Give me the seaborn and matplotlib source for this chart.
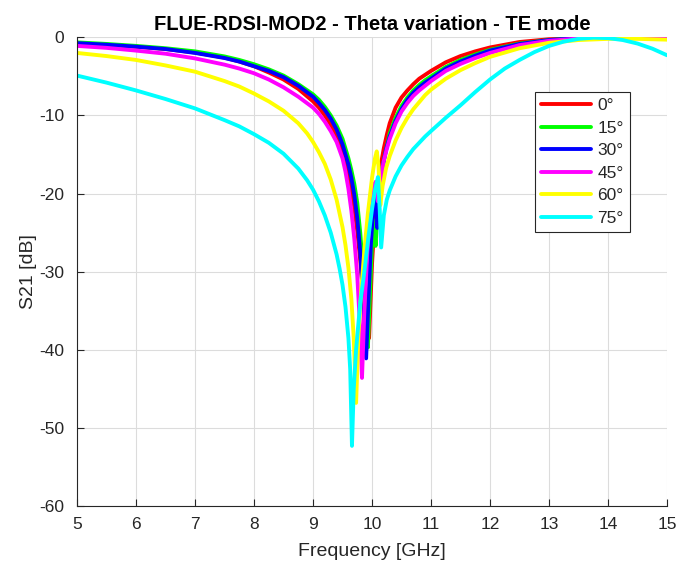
import numpy as np
import pandas as pd
import matplotlib
matplotlib.use('Agg')
import matplotlib.pyplot as plt
import seaborn as sns

# S21 curves, one pair of lists per incidence angle
freq_0 = [5, 5.5, 6, 6.5, 7, 7.5, 7.75, 8, 8.25, 8.5, 8.75, 9, 9.1, 9.2, 9.3, 9.4, 9.5, 9.6, 9.65,
          9.7, 9.75, 9.8, 9.85, 9.9, 9.95, 10.0, 10.05, 10.1, 10.15, 10.2, 10.25, 10.3, 10.4, 10.5,
          10.6, 10.7, 10.8, 10.9, 11, 11.25, 11.5, 11.75, 12, 12.5, 13, 13.5, 14, 14.5, 15]
s21_0 = [-0.75, -0.95, -1.2, -1.5, -1.95, -2.6, -3.1, -3.7, -4.5, -5.4, -6.6, -8.2, -9.0, -10.0, -11.2,
         -12.7, -14.6, -17.3, -19.3, -21.8, -24.8, -28.5, -33.0, -37.0, -38.5, -29.0, -22.5, -18.5,
         -16.3, -14.2, -12.5, -11.0, -9.0, -7.7, -6.8, -6.0, -5.3, -4.8, -4.3, -3.2, -2.4, -1.8, -1.3,
         -0.6, -0.25, -0.1, -0.05, -0.05, -0.1]

freq_15 = [5, 5.5, 6, 6.5, 7, 7.5, 7.75, 8, 8.25, 8.5, 8.75, 9, 9.1, 9.2, 9.3, 9.4, 9.5, 9.6, 9.65,
           9.7, 9.75, 9.8, 9.85, 9.9, 9.93, 9.97, 10.0, 10.03, 10.06, 10.1, 10.15, 10.2, 10.25, 10.3,
           10.4, 10.5, 10.6, 10.7, 10.8, 10.9, 11, 11.25, 11.5, 11.75, 12, 12.5, 13, 13.5, 14, 14.5, 15]
s21_15 = [-0.65, -0.85, -1.1, -1.4, -1.8, -2.45, -2.9, -3.45, -4.1, -4.9, -6.0, -7.3, -8.0, -8.9, -10.0,
          -11.3, -13.0, -15.5, -17.0, -18.8, -21.2, -25.0, -30.0, -36.0, -39.7, -32.0, -26.5, -23.5,
          -26.7, -21.5, -18.0, -15.8, -14.0, -12.3, -10.3, -8.8, -7.7, -6.8, -6.1, -5.5, -5.0, -3.8,
          -2.9, -2.2, -1.6, -0.8, -0.35, -0.1, -0.02, 0.0, 0.0]

freq_30 = [5, 5.5, 6, 6.5, 7, 7.5, 7.75, 8, 8.25, 8.5, 8.75, 9, 9.1, 9.2, 9.3, 9.4, 9.5, 9.6, 9.65,
           9.7, 9.75, 9.8, 9.85, 9.9, 9.94, 9.98, 10.02, 10.06, 10.09, 10.13, 10.18, 10.24, 10.3,
           10.4, 10.5, 10.6, 10.7, 10.8, 10.9, 11, 11.25, 11.5, 11.75, 12, 12.5, 13, 13.5, 14, 14.5, 15]
s21_30 = [-0.75, -0.95, -1.2, -1.5, -2.0, -2.65, -3.1, -3.7, -4.3, -5.1, -6.2, -7.6, -8.4, -9.3, -10.4,
          -11.8, -13.7, -16.3, -18.0, -20.2, -23.2, -27.5, -33.5, -41.1, -33.5, -26.5, -22.0, -20.5,
          -24.4, -19.5, -16.5, -14.3, -12.7, -10.7, -9.2, -8.0, -7.1, -6.4, -5.8, -5.3, -4.0, -3.1,
          -2.35, -1.7, -0.85, -0.35, -0.1, 0.0, 0.0, 0.0]

freq_45 = [5, 5.5, 6, 6.5, 7, 7.5, 7.75, 8, 8.25, 8.5, 8.75, 9, 9.1, 9.2, 9.3, 9.4, 9.5, 9.55, 9.6,
           9.65, 9.7, 9.75, 9.8, 9.83, 9.87, 9.92, 9.97, 10.02, 10.06, 10.1, 10.14, 10.2, 10.25, 10.3,
           10.4, 10.5, 10.6, 10.7, 10.8, 10.9, 11, 11.25, 11.5, 11.75, 12, 12.5, 13, 13.5, 14, 14.5, 15]
s21_45 = [-1.1, -1.35, -1.7, -2.1, -2.7, -3.5, -4.0, -4.6, -5.4, -6.4, -7.6, -9.0, -9.8, -10.8, -12.0,
          -13.4, -15.5, -17.2, -19.4, -22.2, -25.8, -30.5, -37.5, -43.6, -35.0, -27.5, -22.5, -19.5,
          -18.5, -21.0, -18.5, -15.8, -14.3, -13.0, -11.0, -9.5, -8.4, -7.5, -6.8, -6.2, -5.6, -4.3,
          -3.4, -2.65, -2.0, -1.0, -0.45, -0.15, -0.05, 0.0, 0.0]

freq_60 = [5, 5.5, 6, 6.5, 7, 7.5, 7.75, 8, 8.25, 8.5, 8.75, 8.9, 9, 9.1, 9.2, 9.3, 9.4, 9.5, 9.55,
           9.6, 9.65, 9.69, 9.73, 9.77, 9.82, 9.87, 9.93, 10.0, 10.05, 10.08, 10.11, 10.14, 10.18,
           10.24, 10.3, 10.4, 10.5, 10.6, 10.7, 10.8, 10.9, 11, 11.25, 11.5, 11.75, 12, 12.5, 13,
           13.5, 14, 14.5, 15]
s21_60 = [-2.0, -2.4, -2.9, -3.6, -4.4, -5.6, -6.3, -7.2, -8.2, -9.4, -11.0, -12.3, -13.4, -14.7, -16.2,
          -18.2, -20.8, -24.3, -26.6, -29.5, -33.5, -38.5, -46.8, -38.0, -32.0, -27.3, -22.5, -18.0,
          -15.5, -14.6, -16.5, -21.5, -19.0, -16.7, -15.2, -13.2, -11.6, -10.3, -9.2, -8.3, -7.4,
          -6.7, -5.3, -4.2, -3.3, -2.5, -1.4, -0.7, -0.35, -0.2, -0.2, -0.3]

freq_75 = [5, 5.5, 6, 6.5, 7, 7.5, 7.75, 8, 8.25, 8.5, 8.75, 8.9, 9, 9.1, 9.2, 9.3, 9.4, 9.45, 9.5,
           9.55, 9.6, 9.63, 9.66, 9.69, 9.73, 9.8, 9.87, 9.94, 10.0, 10.05, 10.1, 10.13, 10.155, 10.2,
           10.25, 10.3, 10.4, 10.5, 10.6, 10.7, 10.8, 10.9, 11, 11.25, 11.5, 11.75, 12, 12.25, 12.5,
           12.75, 13, 13.25, 13.5, 13.75, 14, 14.25, 14.5, 14.75, 15]
s21_75 = [-4.9, -5.8, -6.8, -7.9, -9.1, -10.6, -11.4, -12.4, -13.5, -14.9, -16.8, -18.3, -19.5, -21.0,
          -22.8, -25.0, -27.8, -29.6, -31.7, -34.5, -38.5, -42.5, -52.3, -45.0, -40.0, -34.0, -30.0,
          -25.5, -22.0, -19.6, -17.9, -22.0, -26.9, -22.8, -20.8, -19.6, -17.8, -16.4, -15.3, -14.3,
          -13.5, -12.7, -12.0, -10.3, -8.7, -7.0, -5.4, -4.0, -2.9, -1.9, -1.1, -0.55, -0.2, -0.05,
          -0.1, -0.35, -0.8, -1.45, -2.3]

angles = ['0°', '15°', '30°', '45°', '60°', '75°']
colors = ['#ff0000', '#00ff00', '#0000ff', '#ff00ff', '#ffff00', '#00ffff']
freqs = [freq_0, freq_15, freq_30, freq_45, freq_60, freq_75]
values = [s21_0, s21_15, s21_30, s21_45, s21_60, s21_75]

# long format table for seaborn
frames = []
for ang, f, v in zip(angles, freqs, values):
    frames.append(pd.DataFrame({'freq': f, 's21': v, 'theta': ang}))
df = pd.concat(frames, ignore_index=True)

sns.set_style('whitegrid')
plt.rcParams['font.family'] = ['Liberation Sans', 'DejaVu Sans']
plt.rcParams['axes.unicode_minus'] = False

fig = plt.figure(figsize=(6.79, 5.61), dpi=100)
ax = fig.add_axes([0.1134, 0.098, 0.869, 0.8355])

sns.lineplot(data=df, x='freq', y='s21', hue='theta', hue_order=angles,
             palette=dict(zip(angles, colors)), estimator=None, sort=False,
             linewidth=2.8, ax=ax)

ax.set_xlim(5, 15)
ax.set_ylim(-60, 0)
ax.set_xticks(np.arange(5, 16, 1))
ax.set_yticks(np.arange(-60, 1, 10))
ax.grid(True, color='#dcdcdc', linewidth=0.8)
ax.tick_params(direction='in', length=5, width=0.8, colors='#262626', labelsize=12.5,
               left=True, bottom=True)
ax.tick_params(axis='x', pad=8)
ax.tick_params(axis='y', pad=9)
for side in ['top', 'right']:
    ax.spines[side].set_visible(False)
for side in ['left', 'bottom']:
    ax.spines[side].set_color('#262626')
    ax.spines[side].set_linewidth(0.8)

ax.set_xlabel('Frequency [GHz]', fontsize=14, color='#262626', labelpad=8)
ax.set_ylabel('S21 [dB]', fontsize=14, color='#262626', labelpad=2)
ax.set_title('FLUE-RDSI-MOD2 - Theta variation - TE mode', fontsize=14.5,
             fontweight='bold', color='#000000', pad=5)

leg = ax.legend(loc='upper right', bbox_to_anchor=(0.937, 0.883), fontsize=12.5,
                frameon=True, fancybox=False, framealpha=1, edgecolor='#262626',
                handlelength=2.9, handletextpad=0.35, labelspacing=0.42, borderpad=0.35,
                borderaxespad=0)
leg.get_frame().set_linewidth(0.8)
for line in leg.get_lines():
    line.set_linewidth(2.8)

fig.savefig('out.png', dpi=100)
